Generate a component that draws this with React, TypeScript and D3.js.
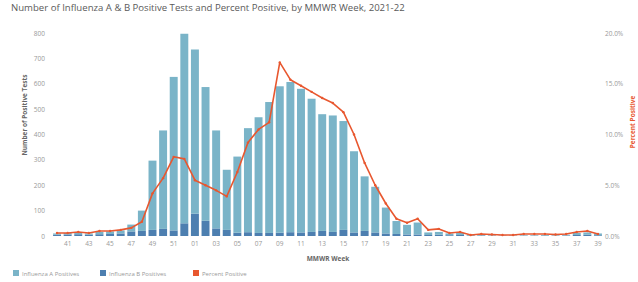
import * as React from 'react';
import { useRef, useEffect } from 'react';
import * as d3 from 'd3';

const weeks = ['40', '41', '42', '43', '44', '45', '46', '47', '48', '49', '50', '51', '52',
  '01', '02', '03', '04', '05', '06', '07', '08', '09', '10', '11', '12', '13', '14', '15', '16',
  '17', '18', '19', '20', '21', '22', '23', '24', '25', '26', '27', '28', '29', '30', '31', '32',
  '33', '34', '35', '36', '37', '38', '39'];

const fluA = [5, 6, 7, 5, 9, 10, 12, 27, 80, 273, 388, 605, 747,
  647, 527, 386, 237, 300, 410, 456, 516, 577, 592, 566, 525, 460, 459, 429, 320,
  215, 180, 102, 51, 38, 47, 10, 11, 7, 8, 3, 3, 2, 1, 1, 2,
  2, 3, 2, 3, 8, 9, 7];

const fluB = [5, 6, 7, 5, 7, 8, 10, 18, 20, 24, 28, 22, 50,
  88, 60, 30, 24, 13, 15, 12, 12, 13, 15, 14, 16, 20, 16, 24, 14,
  20, 14, 10, 8, 6, 6, 4, 5, 3, 4, 1, 2, 1, 1, 1, 1,
  1, 1, 1, 2, 4, 5, 3];

const pctPositive = [0.3, 0.3, 0.4, 0.3, 0.5, 0.5, 0.6, 0.8, 1.4, 4.2, 5.7, 7.8, 7.6,
  5.5, 5.0, 4.5, 3.9, 6.3, 9.2, 10.5, 11.2, 17.1, 15.4, 14.8, 14.2, 13.6, 13.1, 12.2, 10.0,
  7.2, 5.0, 3.2, 1.7, 1.3, 1.7, 0.6, 0.7, 0.3, 0.4, 0.1, 0.2, 0.15, 0.1, 0.1, 0.2,
  0.2, 0.2, 0.15, 0.2, 0.4, 0.5, 0.2];

const countTicks = [0, 100, 200, 300, 400, 500, 600, 700, 800];
const pctTicks = [0, 5, 10, 15, 20];

const colorA = '#7ab4c8';
const colorB = '#4d7fb0';
const colorLine = '#e8572f';

const App: React.FC = () => {
  const svgRef = useRef<SVGSVGElement>(null);

  useEffect(() => {
    if (!svgRef.current) return;
    const width = 638;
    const height = 282;
    const svg = d3.select(svgRef.current);
    svg.selectAll('*').remove();
    svg.attr('width', width).attr('height', height);

    const font = 'Open Sans, Arial, sans-serif';

    const x = d3.scaleBand()
      .domain(weeks)
      .range([52, 603])
      .paddingInner(0.25)
      .paddingOuter(0.1);

    const y = d3.scaleLinear().domain([0, 800]).range([236, 33]);
    const yPct = d3.scaleLinear().domain([0, 20]).range([236, 33]);

    // title
    svg.append('text')
      .attr('x', 11)
      .attr('y', 11)
      .attr('font-family', font)
      .attr('font-size', '9.6px')
      .attr('fill', '#5a5a5a')
      .text('Number of Influenza A & B Positive Tests and Percent Positive, by MMWR Week, 2021-22');

    // left axis
    const left = svg.append('g').attr('transform', 'translate(47,0)')
      .call(d3.axisLeft(y).tickValues(countTicks).tickSize(0).tickPadding(2));
    left.select('.domain').remove();
    left.selectAll('text').attr('font-family', font).attr('font-size', '6.5px').attr('fill', '#999');

    // right axis
    const right = svg.append('g').attr('transform', 'translate(603,0)')
      .call(d3.axisRight(yPct).tickValues(pctTicks).tickSize(0).tickPadding(2)
        .tickFormat(d => `${(+d).toFixed(1)}%`));
    right.select('.domain').remove();
    right.selectAll('text').attr('font-family', font).attr('font-size', '6.5px').attr('fill', '#999');

    // bottom axis, every other week
    const bottom = svg.append('g').attr('transform', 'translate(0,238)')
      .call(d3.axisBottom(x).tickValues(weeks.filter((_, i) => i % 2 === 1)).tickSize(0).tickPadding(3));
    bottom.select('.domain').remove();
    bottom.selectAll('text').attr('font-family', font).attr('font-size', '6.5px').attr('fill', '#999');

    // axis titles
    svg.append('text')
      .attr('transform', 'translate(27,115) rotate(-90)')
      .attr('text-anchor', 'middle')
      .attr('font-family', font)
      .attr('font-size', '6.5px')
      .attr('font-weight', 'bold')
      .attr('fill', '#666')
      .text('Number of Positive Tests');

    svg.append('text')
      .attr('transform', 'translate(635,122) rotate(-90)')
      .attr('text-anchor', 'middle')
      .attr('font-family', font)
      .attr('font-size', '6.5px')
      .attr('font-weight', 'bold')
      .attr('fill', colorLine)
      .text('Percent Positive');

    svg.append('text')
      .attr('x', 328)
      .attr('y', 261)
      .attr('text-anchor', 'middle')
      .attr('font-family', font)
      .attr('font-size', '6.5px')
      .attr('font-weight', 'bold')
      .attr('fill', '#666')
      .text('MMWR Week');

    // stacked bars: B at bottom, A on top
    const rows = weeks.map((w, i) => ({ week: w, a: fluA[i], b: fluB[i], pct: pctPositive[i] }));

    svg.append('g').selectAll('rect.b')
      .data(rows)
      .enter()
      .append('rect')
      .attr('x', d => x(d.week)!)
      .attr('y', d => y(d.b))
      .attr('width', x.bandwidth())
      .attr('height', d => y(0) - y(d.b))
      .attr('fill', colorB);

    svg.append('g').selectAll('rect.a')
      .data(rows)
      .enter()
      .append('rect')
      .attr('x', d => x(d.week)!)
      .attr('y', d => y(d.a + d.b))
      .attr('width', x.bandwidth())
      .attr('height', d => y(d.b) - y(d.a + d.b))
      .attr('fill', colorA);

    // percent positive line
    const line = d3.line<typeof rows[0]>()
      .x(d => x(d.week)! + x.bandwidth() / 2)
      .y(d => yPct(d.pct));

    svg.append('path')
      .datum(rows)
      .attr('d', line)
      .attr('fill', 'none')
      .attr('stroke', colorLine)
      .attr('stroke-width', 1.6)
      .attr('stroke-linejoin', 'round');

    svg.append('g').selectAll('circle')
      .data(rows)
      .enter()
      .append('circle')
      .attr('cx', d => x(d.week)! + x.bandwidth() / 2)
      .attr('cy', d => yPct(d.pct))
      .attr('r', 1.2)
      .attr('fill', colorLine);

    // legend
    const legendItems = [
      { label: 'Influenza A Positives', color: colorA, x: 13 },
      { label: 'Influenza B Positives', color: colorB, x: 100 },
      { label: 'Percent Positive', color: colorLine, x: 193 },
    ];
    const legend = svg.append('g');
    legendItems.forEach(item => {
      legend.append('rect')
        .attr('x', item.x)
        .attr('y', 270)
        .attr('width', 6)
        .attr('height', 6)
        .attr('fill', item.color);
      legend.append('text')
        .attr('x', item.x + 9)
        .attr('y', 275.5)
        .attr('font-family', font)
        .attr('font-size', '6px')
        .attr('fill', '#999')
        .text(item.label);
    });
  }, []);

  return (
    <div style={{ position: 'absolute', left: 0, top: 0, width: 638, height: 282, background: 'white' }}>
      <svg ref={svgRef} style={{ display: 'block' }}></svg>
    </div>
  );
};

export default App;
